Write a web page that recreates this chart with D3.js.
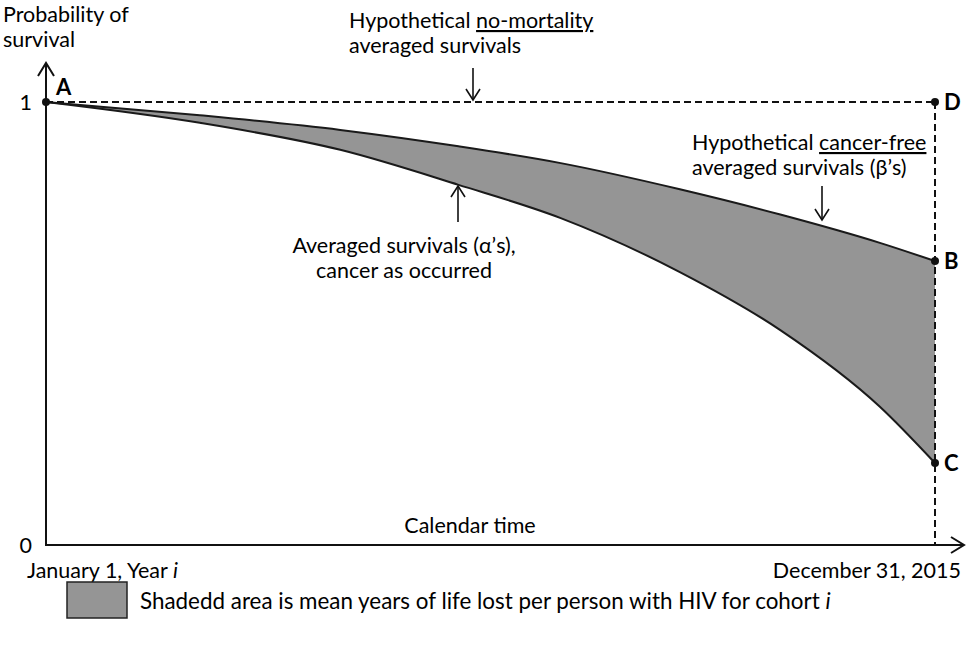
<!DOCTYPE html>
<html lang="en">
<head>
<meta charset="UTF-8">
<title>Life lost schematic</title>
<script src="https://d3js.org/d3.v7.min.js"></script>
<style>
 body { margin: 0; background: #fff; }
 svg text { font-family: Lato, "Open Sans", sans-serif; font-size: 21.5px; fill: #000; }
 .pt { font-weight: bold; font-size: 22px; }
 .legend-text { font-size: 22.4px; }
 .axis-line { stroke: #111; stroke-width: 2; fill: none; }
 .dash { stroke: #111; stroke-width: 2; stroke-dasharray: 7 4; fill: none; }
 .curve { stroke: #1a1a1a; stroke-width: 2; fill: none; }
 .pointer { stroke: #111; stroke-width: 1.6; fill: none; }
</style>
</head>
<body>
<div id="chart"></div>
<script>
// time as fraction of the follow-up period (Jan 1 Year i -> Dec 31 2015)
const timeFrac = [0, 0.173, 0.331, 0.464, 0.579, 0.713, 0.826, 0.938, 1];
// hypothetical cancer-free averaged survival (beta)
const betaSurv = [1.000, 0.970, 0.937, 0.900, 0.862, 0.803, 0.746, 0.682, 0.641];
// averaged survival, cancer as occurred (alpha)
const alphaSurv = [1.000, 0.953, 0.892, 0.813, 0.738, 0.616, 0.485, 0.312, 0.185];
const yTicks = [0, 1];
const xTickLabels = ["January 1, Year ", "December 31, 2015"];

const width = 975, height = 653;
const svg = d3.select('#chart').append('svg')
  .attr('width', width)
  .attr('height', height);

const x = d3.scaleLinear().domain([0, 1]).range([46, 935]);
const y = d3.scaleLinear().domain([0, 1]).range([545, 102]);

const rows = timeFrac.map((t, i) => ({ t, a: alphaSurv[i], b: betaSurv[i] }));

// shaded area between the two curves
const area = d3.area()
  .curve(d3.curveMonotoneX)
  .x(d => x(d.t))
  .y0(d => y(d.a))
  .y1(d => y(d.b));

svg.append('path')
  .datum(rows)
  .attr('d', area)
  .attr('fill', '#959595');

const line = key => d3.line()
  .curve(d3.curveMonotoneX)
  .x(d => x(d.t))
  .y(d => y(d[key]));

svg.append('path').datum(rows).attr('class', 'curve').attr('d', line('b'));
svg.append('path').datum(rows).attr('class', 'curve').attr('d', line('a'));

// dashed no-mortality line and end-of-follow-up line
svg.append('line').attr('class', 'dash')
  .attr('x1', x(0)).attr('x2', x(1)).attr('y1', y(1)).attr('y2', y(1));
svg.append('line').attr('class', 'dash')
  .attr('x1', x(1)).attr('x2', x(1)).attr('y1', y(1)).attr('y2', y(0));

// axes with open arrow heads
svg.append('line').attr('class', 'axis-line')
  .attr('x1', x(0)).attr('x2', x(0)).attr('y1', y(0)).attr('y2', 63);
svg.append('path').attr('class', 'axis-line')
  .attr('d', `M${x(0) - 8},${76} L${x(0)},${63} L${x(0) + 8},${76}`);
svg.append('line').attr('class', 'axis-line')
  .attr('x1', x(0) - 1).attr('x2', 964).attr('y1', y(0)).attr('y2', y(0));
svg.append('path').attr('class', 'axis-line')
  .attr('d', `M${951},${y(0) - 8} L${964},${y(0)} L${951},${y(0) + 8}`);

// y tick labels via d3 axis
const yAxis = svg.append('g')
  .attr('transform', `translate(${x(0) - 11},0)`)
  .call(d3.axisLeft(y).tickValues(yTicks).tickSize(0).tickFormat(d3.format('d')));
yAxis.select('.domain').remove();
yAxis.selectAll('text')
  .attr('font-size', null).attr('font-family', null)
  .attr('dy', '0.35em');

// points
const pts = [
  { t: 0, v: 1, label: 'A', dx: 10, dy: -7 },
  { t: 1, v: 1, label: 'D', dx: 9, dy: 8 },
  { t: 1, v: betaSurv[betaSurv.length - 1], label: 'B', dx: 9, dy: 8 },
  { t: 1, v: alphaSurv[alphaSurv.length - 1], label: 'C', dx: 9, dy: 8 }
];
svg.selectAll('circle.pt')
  .data(pts).enter().append('circle')
  .attr('cx', d => x(d.t)).attr('cy', d => y(d.v)).attr('r', 4).attr('fill', '#111');
svg.selectAll('text.pt')
  .data(pts).enter().append('text')
  .attr('class', 'pt')
  .attr('x', d => x(d.t) + d.dx).attr('y', d => y(d.v) + d.dy)
  .text(d => d.label);

// axis titles
svg.append('text').attr('x', 3).attr('y', 22).text('Probability of');
svg.append('text').attr('x', 3).attr('y', 47).text('survival');
svg.append('text').attr('x', 470).attr('y', 533).attr('text-anchor', 'middle').text('Calendar time');

const xl = svg.append('text').attr('x', 27).attr('y', 578);
xl.append('tspan').text(xTickLabels[0]);
xl.append('tspan').attr('font-style', 'italic').text('i');
svg.append('text').attr('x', 961).attr('y', 578).attr('text-anchor', 'end').text(xTickLabels[1]);

// annotations
function pointer(x0, y0, y1) {
  const dir = y1 > y0 ? -1 : 1;
  svg.append('line').attr('class', 'pointer')
    .attr('x1', x0).attr('x2', x0).attr('y1', y0).attr('y2', y1);
  svg.append('path').attr('class', 'pointer')
    .attr('d', `M${x0 - 7},${y1 + dir * 11} L${x0},${y1} L${x0 + 7},${y1 + dir * 11}`);
}

const n1 = svg.append('text').attr('x', 349).attr('y', 28);
n1.append('tspan').text('Hypothetical ');
n1.append('tspan').attr('text-decoration', 'underline').text('no-mortality');
svg.append('text').attr('x', 349).attr('y', 53).text('averaged survivals');
pointer(473, 68, y(1) - 2);

const n2 = svg.append('text').attr('x', 692).attr('y', 150);
n2.append('tspan').text('Hypothetical ');
n2.append('tspan').attr('text-decoration', 'underline').text('cancer-free');
svg.append('text').attr('x', 692).attr('y', 175).text('averaged survivals (\u03b2\u2019s)');
pointer(822, 186, 220);

svg.append('text').attr('x', 404).attr('y', 253).attr('text-anchor', 'middle').text('Averaged survivals (\u03b1\u2019s),');
svg.append('text').attr('x', 404).attr('y', 278).attr('text-anchor', 'middle').text('cancer as occurred');
pointer(458, 222, 186);

// legend
svg.append('rect')
  .attr('x', 67).attr('y', 582).attr('width', 60).attr('height', 36)
  .attr('fill', '#959595').attr('stroke', '#222').attr('stroke-width', 1.5);
const lg = svg.append('text').attr('class', 'legend-text').attr('x', 140).attr('y', 609);
lg.append('tspan').text('Shadedd area is mean years of life lost per person with HIV for cohort ');
lg.append('tspan').attr('font-style', 'italic').text('i');
</script>
</body>
</html>
